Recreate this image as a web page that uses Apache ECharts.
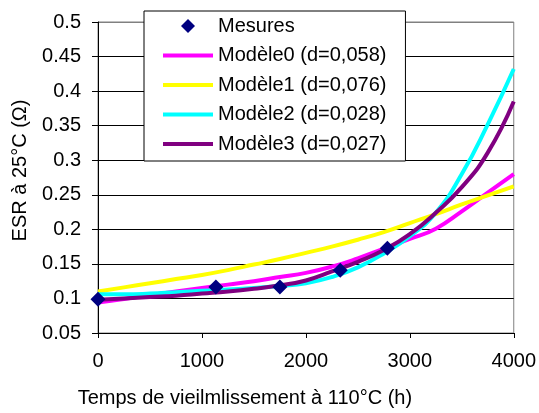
<!DOCTYPE html>
<html>
<head>
<meta charset="utf-8">
<script src="https://cdn.jsdelivr.net/npm/echarts@6/dist/echarts.min.js"></script>
<style>
html,body{margin:0;padding:0;background:#fff;}
#chart{width:539px;height:413px;}
</style>
</head>
<body>
<div id="chart"></div>
<script>
// Data
var xModel = [0, 250, 500, 750, 1000, 1250, 1500, 1750, 2000, 2250, 2500, 2750, 3000, 3250, 3500, 3750, 4000];
var model0 = [0.094, 0.099, 0.105, 0.110, 0.115, 0.120, 0.125, 0.131, 0.137, 0.146, 0.158, 0.172, 0.186, 0.201, 0.226, 0.253, 0.280];
var model1 = [0.110, 0.116, 0.122, 0.128, 0.134, 0.141, 0.149, 0.157, 0.166, 0.175, 0.185, 0.196, 0.209, 0.222, 0.236, 0.249, 0.262];
var model2 = [0.106, 0.106, 0.107, 0.109, 0.111, 0.113, 0.115, 0.118, 0.122, 0.131, 0.145, 0.165, 0.190, 0.224, 0.280, 0.352, 0.432];
var model3 = [0.098, 0.100, 0.102, 0.104, 0.107, 0.110, 0.114, 0.119, 0.126, 0.139, 0.153, 0.170, 0.193, 0.224, 0.261, 0.311, 0.385];
var xMes = [0, 1134, 1750, 2331, 2784];
var yMes = [0.099, 0.1165, 0.1165, 0.1408, 0.1728];
var seriesNames = ['Mesures', 'Modèle0 (d=0,058)', 'Modèle1 (d=0,076)', 'Modèle2 (d=0,028)', 'Modèle3 (d=0,027)'];
var xTitle = 'Temps de vieilmlissement à 110°C (h)';
var yTitle = 'ESR à 25°C (Ω)';

function pairs(xs, ys) { return xs.map(function (x, i) { return [x, ys[i]]; }); }

var FONT = '"Liberation Sans", Arial, sans-serif';
var chart = echarts.init(document.getElementById('chart'), null, {renderer: 'canvas'});

function lineSeries(name, data, color, z) {
  return {
    name: name, type: 'line', data: pairs(xModel, data), smooth: 0.5,
    symbol: 'none', showSymbol: false, z: z,
    lineStyle: {color: color, width: 4},
    itemStyle: {color: color},
    silent: true, animation: false
  };
}

var gridColors = ['#000', '#000', '#000', '#000', '#000', '#000', '#000', '#000', '#000', '#808080'];
var lineIcon = 'path://M0,0H50V4H0Z';
var diamondIcon = 'path://M7,0L14,7L7,14L0,7Z';

chart.setOption({
  animation: false,
  backgroundColor: '#fff',
  textStyle: {fontFamily: FONT, color: '#000'},
  grid: {left: 98, right: 23, top: 22, bottom: 80, show: true, borderColor: '#808080', borderWidth: 1, backgroundColor: 'transparent'},
  legend: {
    data: [
      {name: seriesNames[0], icon: diamondIcon},
      {name: seriesNames[1], icon: lineIcon},
      {name: seriesNames[2], icon: lineIcon},
      {name: seriesNames[3], icon: lineIcon},
      {name: seriesNames[4], icon: lineIcon}
    ],
    symbolKeepAspect: true,
    orient: 'vertical',
    left: 144, top: 11,
    padding: [5, 19, 7, 19],
    itemWidth: 50, itemHeight: 14, itemGap: 9.5,
    backgroundColor: '#fff', borderColor: '#000', borderWidth: 1, borderRadius: 0,
    textStyle: {fontSize: 20, fontFamily: FONT, color: '#000', lineHeight: 20},
    selectedMode: false, z: 10
  },
  xAxis: {
    type: 'value', min: 0, max: 4000, interval: 1000,
    name: xTitle, nameLocation: 'middle', nameGap: 55,
    nameTextStyle: {fontSize: 20, fontFamily: FONT, color: '#000', padding: [0, 122, 0, 0]},
    axisLine: {show: true, lineStyle: {color: '#000', width: 1}},
    axisTick: {show: true, length: 5, lineStyle: {color: '#000'}},
    axisLabel: {fontSize: 20, fontFamily: FONT, color: '#000', margin: 18,
      formatter: function (v) { return String(Math.round(v)); }},
    splitLine: {show: false}
  },
  yAxis: {
    type: 'value', min: 0.05, max: 0.5, interval: 0.05,
    name: yTitle, nameLocation: 'middle', nameGap: 68, nameRotate: 90,
    nameTextStyle: {fontSize: 20, fontFamily: FONT, color: '#000', padding: [0, 0, 0, 14]},
    axisLine: {show: true, lineStyle: {color: '#000', width: 1}},
    axisTick: {show: true, length: 6, lineStyle: {color: '#000'}},
    axisLabel: {fontSize: 20, fontFamily: FONT, color: '#000', margin: 17,
      formatter: function (v) { return String(+v.toFixed(2)); }},
    splitLine: {show: true, lineStyle: {color: gridColors, width: 1}}
  },
  series: [
    lineSeries(seriesNames[1], model0, '#FF00FF', 2),
    lineSeries(seriesNames[2], model1, '#FFFF00', 2),
    lineSeries(seriesNames[3], model2, '#00FFFF', 2),
    lineSeries(seriesNames[4], model3, '#800080', 2),
    {
      name: seriesNames[0], type: 'scatter', data: pairs(xMes, yMes),
      symbol: 'diamond', symbolSize: 15, z: 5,
      itemStyle: {color: '#000080', opacity: 1}, silent: true
    }
  ]
});
</script>
</body>
</html>
